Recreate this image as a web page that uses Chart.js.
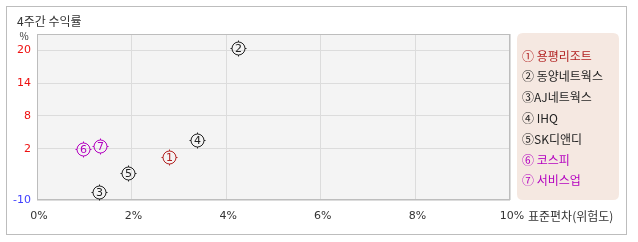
<!DOCTYPE html>
<html><head><meta charset="utf-8">
<script src="https://cdn.jsdelivr.net/npm/chart.js@4"></script>
<style>html,body{margin:0;padding:0;background:#fff;}#wrap{width:638px;height:242px;position:relative;}</style>
</head><body><div id="wrap"><canvas id="c" width="638" height="242"></canvas></div>
<script>
const chartTitle = '4주간 수익률';
const markers = ['①','②','③','④','⑤','⑥','⑦'];
const digits = ['1','2','3','4','5','6','7'];
const names = ['용평리조트','동양네트웍스','AJ네트웍스','IHQ','SK디앤디','코스피','서비스업'];
const stdDev = [2.80, 4.24, 1.32, 3.38, 1.93, 0.98, 1.34];
const returns4w = [0.5, 20.4, -6.0, 3.6, -2.5, 1.9, 2.4];
const colors = ['#b22222','#222222','#222222','#222222','#222222','#b400c0','#b400c0'];
const legendSep = [' ',' ','',' ','',' ',' '];
const xTicks = [0,2,4,6,8,10];
const yTicks = [2,8,14,20];
const yMin = -7.4, yMax = 23;
const yMinLabel = '-10';
const xAxisTitle = '표준편차(위험도)';
const yUnit = '%';
const FONT = '"Noto Sans CJK KR","Noto Sans",sans-serif';

const deco = {
  id:'deco',
  beforeDraw(chart){
    const ctx = chart.ctx, a = chart.chartArea;
    ctx.save();
    ctx.fillStyle = '#fff'; ctx.fillRect(0,0,chart.width,chart.height);
    ctx.strokeStyle = '#bdbdbd'; ctx.lineWidth = 1;
    ctx.strokeRect(6.5,6.5,620,228);
    ctx.fillStyle = '#f4f4f4';
    ctx.fillRect(a.left,a.top,a.right-a.left,a.bottom-a.top);
    ctx.fillStyle = '#333'; ctx.font = '12px '+FONT; ctx.textBaseline='middle'; ctx.textAlign='left';
    ctx.fillText(chartTitle, 17, 21);
    ctx.font = '10px '+FONT; ctx.textAlign='center';
    ctx.fillText(yUnit, 24, 36);
    ctx.restore();
  },
  afterDatasetsDraw(chart){
    const ctx = chart.ctx, a = chart.chartArea;
    ctx.save();
    ctx.strokeStyle = '#bdbdbd'; ctx.lineWidth = 1;
    ctx.strokeRect(Math.round(a.left)+0.5,Math.round(a.top)+0.5,Math.round(a.right-a.left)-1,Math.round(a.bottom-a.top)-1);
    const meta = chart.getDatasetMeta(0);
    meta.data.forEach((el,i)=>{
      const x = Math.round(el.x)+0.5, y = Math.round(el.y)+0.5;
      ctx.strokeStyle = colors[i]; ctx.fillStyle = colors[i]; ctx.lineWidth = 1;
      ctx.beginPath();
      ctx.arc(x, y, 6.5, 0, Math.PI*2);
      ctx.stroke();
      ctx.beginPath();
      ctx.moveTo(x,y-6.5); ctx.lineTo(x,y-8);
      ctx.moveTo(x,y+6.5); ctx.lineTo(x,y+8);
      ctx.moveTo(x-6.5,y); ctx.lineTo(x-8,y);
      ctx.moveTo(x+6.5,y); ctx.lineTo(x+8,y);
      ctx.stroke();
      ctx.font = '11px "DejaVu Sans",sans-serif'; ctx.textAlign='center'; ctx.textBaseline='middle';
      ctx.fillText(digits[i], x, y+0.5);
    });
    ctx.fillStyle = '#333'; ctx.font = '12px '+FONT; ctx.textAlign='left'; ctx.textBaseline='middle';
    ctx.fillText(xAxisTitle, 528, 216);
    const lx = 517, ly = 33, lw = 102, lh = 167, r = 6;
    ctx.fillStyle = '#f5e8e1';
    ctx.beginPath();
    ctx.moveTo(lx+r,ly); ctx.lineTo(lx+lw-r,ly); ctx.quadraticCurveTo(lx+lw,ly,lx+lw,ly+r);
    ctx.lineTo(lx+lw,ly+lh-r); ctx.quadraticCurveTo(lx+lw,ly+lh,lx+lw-r,ly+lh);
    ctx.lineTo(lx+r,ly+lh); ctx.quadraticCurveTo(lx,ly+lh,lx,ly+lh-r);
    ctx.lineTo(lx,ly+r); ctx.quadraticCurveTo(lx,ly,lx+r,ly); ctx.fill();
    ctx.font = '12px '+FONT; ctx.textBaseline='middle'; ctx.textAlign='left';
    names.forEach((n,i)=>{
      ctx.fillStyle = colors[i];
      ctx.fillText(markers[i]+legendSep[i]+n, 522, 56 + i*20.8);
    });
    ctx.restore();
  }
};

new Chart(document.getElementById('c'), {
  type:'scatter',
  data:{datasets:[{
    data: stdDev.map((x,i)=>({x:x, y:returns4w[i]})),
    pointRadius:0, pointHoverRadius:0,
    pointBackgroundColor:'rgba(0,0,0,0)',
    pointBorderColor: colors, pointBorderWidth:0
  }]},
  options:{
    responsive:false, animation:false,
    layout:{padding:{left:0,right:128,top:34,bottom:0}},
    plugins:{legend:{display:false},tooltip:{enabled:false},title:{display:false}},
    scales:{
      x:{type:'linear', min:0, max:10,
        afterBuildTicks(s){ s.ticks = xTicks.map(v=>({value:v})); },
        afterFit(s){ s.height = 42; },
        grid:{color:'#dcdcdc', drawTicks:false},
        border:{display:false},
        ticks:{padding:10, labelOffset:2, color:'#333', font:{size:11, family:'"DejaVu Sans",sans-serif'}, maxRotation:0, callback:v=>v+'%'}
      },
      y:{type:'linear', min:yMin, max:yMax,
        afterBuildTicks(s){ s.ticks = [{value:yMin}].concat(yTicks.map(v=>({value:v}))); },
        afterFit(s){ s.width = 37; },
        grid:{color:'#dcdcdc', drawTicks:false},
        border:{display:false},
        ticks:{padding:6, color:c=>c.tick && c.tick.value<0 ? '#4040ff' : '#ee1111', font:{size:11, family:'"DejaVu Sans",sans-serif'},
          callback:v=> v===yMin ? yMinLabel : String(v)}
      }
    }
  },
  plugins:[deco]
});
</script></body></html>
